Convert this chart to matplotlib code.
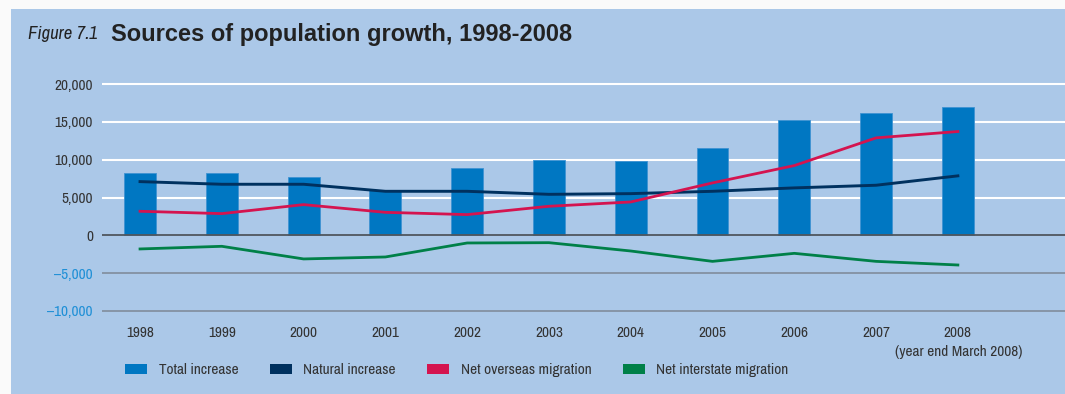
import numpy as np
import matplotlib.pyplot as plt
from matplotlib.patches import Patch, Rectangle

NARROW = dict(family=["Archivo Narrow", "Barlow Semi Condensed", "DejaVu Sans"])

years = ["1998", "1999", "2000", "2001", "2002", "2003", "2004", "2005", "2006", "2007", "2008"]
total_increase = [8300, 8300, 7750, 6050, 8950, 10000, 9880, 11500, 15300, 16230, 17020]
natural_increase = [7100, 6750, 6750, 5820, 5820, 5420, 5510, 5820, 6270, 6620, 7860]
net_overseas = [3180, 2870, 4060, 3040, 2740, 3840, 4410, 6930, 9220, 12880, 13720]
net_interstate = [-1800, -1450, -3120, -2860, -1010, -970, -2070, -3440, -2380, -3440, -3920]

yticks = [-10000, -5000, 0, 5000, 10000, 15000, 20000]
legend_labels = ["Total increase", "Natural increase", "Net overseas migration", "Net interstate migration"]

BG = "#abc8e8"
C_BAR = "#0077c2"
C_NAT = "#00315f"
C_OVS = "#d4144f"
C_INT = "#008048"
TXT = "#333333"
FS = 11

W, H = 1065, 394
fig = plt.figure(figsize=(W / 100, H / 100), dpi=100)
fig.patch.set_facecolor("#fafafa")
fig.add_artist(Rectangle((11 / W, 0), 1 - 11 / W, 1 - 9 / H, transform=fig.transFigure,
                         facecolor=BG, edgecolor="none", zorder=0))

# axes placed so 20,000 sits at y=84px and -10,000 at y=311px
pad = 300
ppu = (311 - 84) / 30000.0
top_px = 84 - pad * ppu
bot_px = 311 + pad * ppu
left_px, right_px = 102, 1065
ax = fig.add_axes([left_px / W, 1 - bot_px / H, (right_px - left_px) / W, (bot_px - top_px) / H])
ax.set_facecolor("none")
for s in ax.spines.values():
    s.set_visible(False)

x = np.arange(len(years))
ax.set_xlim(-0.465, 11.31)
ax.set_ylim(-10000 - pad, 20000 + pad)

for v in yticks:
    if v > 0:
        ax.axhline(v, color="white", lw=1.5, zorder=1)
    elif v == 0:
        ax.axhline(v, color="#50565e", lw=1.3, zorder=3)
    else:
        ax.axhline(v, color="#7d8895", lw=1.1, zorder=1)

ax.bar(x, total_increase, width=0.39, color=C_BAR, edgecolor="#3f93d2", linewidth=0.6, zorder=2)
ax.plot(x, natural_increase, color=C_NAT, lw=2.1, zorder=4)
ax.plot(x, net_overseas, color=C_OVS, lw=2.0, zorder=4)
ax.plot(x, net_interstate, color=C_INT, lw=2.0, zorder=4)

ax.set_yticks(yticks)
ax.set_yticklabels([f"{v:,}".replace("-", "\u2013") for v in yticks], fontsize=FS, **NARROW)
for lab, v in zip(ax.get_yticklabels(), yticks):
    lab.set_color("#1e8fd6" if v < 0 else TXT)
ax.tick_params(axis="y", length=0, pad=6.5)

ax.set_xticks(x)
ax.set_xticklabels(years, fontsize=FS, color=TXT, **NARROW)
ax.tick_params(axis="x", length=0, pad=9.5)

fig.text(1022 / W, 1 - 352 / H, "(year end March 2008)", ha="right", va="center",
         fontsize=FS, color=TXT, **NARROW)

# title
fig.text(28 / W, 1 - 34 / H, "Figure 7.1", ha="left", va="center", fontsize=13.5,
         style="italic", color="#222222", **NARROW)
fig.text(111 / W, 1 - 34 / H, "Sources of population growth, 1998-2008", ha="left", va="center",
         fontsize=17, fontweight="bold", color="#222222", family="Liberation Sans")

handles = [Patch(facecolor=c, edgecolor="none") for c in [C_BAR, C_NAT, C_OVS, C_INT]]
leg = fig.legend(handles, legend_labels, loc="center left",
                 bbox_to_anchor=(125 / W, 1 - 370 / H), ncol=4, frameon=False,
                 borderpad=0, borderaxespad=0, handlelength=1.45, handleheight=0.65,
                 handletextpad=0.75, columnspacing=2.05,
                 prop=dict(size=FS, **NARROW))
for t in leg.get_texts():
    t.set_color(TXT)

fig.savefig("out.png", dpi=100, facecolor=fig.get_facecolor())
